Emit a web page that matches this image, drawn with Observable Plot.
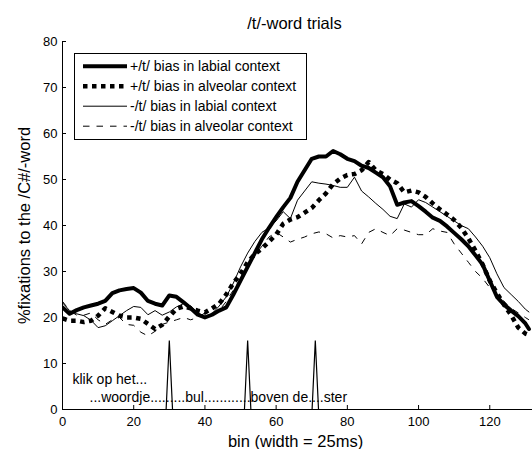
<!DOCTYPE html>
<html><head><meta charset="utf-8">
<script src="https://cdn.jsdelivr.net/npm/d3@7"></script>
<script src="https://cdn.jsdelivr.net/npm/@observablehq/plot@0.6"></script>
<style>
body{margin:0;background:#fff;font-family:Arial,"Liberation Sans",sans-serif;color:#000}
#wrap{position:relative;width:532px;height:449px;overflow:hidden;background:#fff}
#title{position:absolute;left:0;top:14px;width:475px;padding-left:57px;text-align:center;font-size:16.5px;line-height:19px;white-space:nowrap}
#chart{position:absolute;left:0;top:30px}
#legend{position:absolute;left:74px;top:53px}
</style></head><body>
<div id="wrap"><div id="title">/t/-word trials</div><div id="chart"></div><div id="legend"></div></div>
<script>
const titleText = "/t/-word trials";
const xLabel = "bin (width = 25ms)";
const yLabel = "%fixations to the /C#/-word";
const xTicks = [0, 20, 40, 60, 80, 100, 120];
const yTicks = [0, 10, 20, 30, 40, 50, 60, 70, 80];
const seriesNames = ["+/t/ bias in labial context", "+/t/ bias in alveolar context", "-/t/ bias in labial context", "-/t/ bias in alveolar context"];
const bins = [0,2,4,6,8,10,12,14,16,18,20,22,24,26,28,30,32,34,36,38,40,42,44,46,48,50,52,54,56,58,60,62,64,66,68,70,72,74,76,78,80,82,84,86,88,90,92,94,96,98,100,102,104,106,108,110,112,114,116,118,120,122,124,126,128,130,131];
const labialPlus = [22.2,20.8,21.6,22.2,22.6,23.0,23.6,25.3,25.9,26.2, 26.4,25.4,23.6,23.0,22.6,24.8,24.5,23.3,22.0,20.6, 20.0,20.6,21.5,22.2,25.0,28.0,31.0,34.0,37.0,39.5, 41.8,44.0,46.0,49.5,52.0,54.5,55.0,55.0,56.2,55.5, 54.5,54.0,53.0,52.5,51.5,50.5,48.5,44.5,45.0,45.3, 44.2,43.0,41.7,41.0,39.8,38.4,37.0,35.5,33.5,31.5, 28.0,24.5,22.8,21.5,20.3,18.7, 17.5];
const alveolarPlus = [19.8,19.3,19.3,19.0,19.3,20.4,22.0,21.2,20.4,20.0, 20.0,19.7,18.6,17.5,18.4,20.2,21.9,22.4,22.0,21.5, 21.1,22.0,23.0,25.0,27.5,29.5,32.0,33.8,35.0,36.5, 38.0,40.4,41.3,41.8,42.8,43.8,45.5,47.0,49.0,50.2, 51.0,51.2,52.0,53.8,52.0,51.2,50.0,49.2,47.2,47.6, 47.2,46.2,44.8,43.5,42.4,41.2,39.5,37.2,34.5,31.5, 28.0,25.3,22.8,20.5,17.8,16.5, 16.2];
const labialMinus = [23.2,21.5,20.8,20.4,19.4,17.8,18.2,19.3,20.4,21.5, 22.4,22.2,20.6,21.5,20.5,21.2,22.3,23.0,22.5,21.0, 20.3,20.8,22.5,24.5,27.5,31.0,34.0,36.5,38.5,39.5, 41.0,43.0,41.5,45.5,47.5,49.5,49.2,49.0,48.7,48.3, 48.3,50.5,47.5,46.2,44.8,43.5,42.0,41.5,44.7,44.0, 45.6,45.0,44.0,43.0,42.0,41.0,40.0,39.3,37.5,35.5, 33.0,29.5,26.5,25.0,23.5,21.8, 21.2];
const alveolarMinus = [23.5,21.5,20.5,20.5,21.0,19.5,18.5,19.5,20.0,18.5, 18.3,16.8,16.0,17.0,18.5,19.0,19.5,20.0,19.5,20.0, 21.0,20.5,21.5,23.5,26.0,28.5,31.0,33.5,35.5,37.5, 38.5,37.5,36.4,37.0,37.5,38.2,38.6,38.2,37.3,37.8, 37.5,37.8,36.0,38.5,39.3,38.5,37.8,39.3,39.0,38.5, 38.0,38.0,39.3,38.8,38.5,36.0,34.0,32.0,30.0,28.5, 26.5,25.0,23.5,22.0,21.0,20.0, 19.5];
const wordOnsets = [30, 52, 71];
const onsetMarkerHeight = 15;
const annotationTop = "klik op het...";
const annotationBottom = "...woordje.........bul............boven de....ster";

const styles = [
  {strokeWidth: 4, strokeDasharray: null, strokeLinecap: "round"},
  {strokeWidth: 4.5, strokeDasharray: "4.5,4.5", strokeLinecap: "butt"},
  {strokeWidth: 1, strokeDasharray: null, strokeLinecap: "round"},
  {strokeWidth: 1, strokeDasharray: "6.5,7", strokeLinecap: "butt"}
];
const seriesValues = [labialPlus, alveolarPlus, labialMinus, alveolarMinus];
const seriesData = seriesValues.map(vals => bins.map((b, i) => ({x: b, y: vals[i]})));

const markerData = wordOnsets.flatMap(o => [
  {x: o - 0.9, y: 0, z: o}, {x: o, y: onsetMarkerHeight, z: o}, {x: o + 0.9, y: 0, z: o}
]);

const font = "Arial, 'Liberation Sans', sans-serif";
document.getElementById("title").textContent = titleText;

const W = 532, H = 419, mL = 62, mR = 0, mT = 11, mB = 40, tickLen = 4;
const plot = Plot.plot({
  width: W, height: H,
  marginLeft: mL, marginRight: mR, marginTop: mT, marginBottom: mB,
  style: {fontFamily: font, fontSize: "13px", color: "#000", background: "#fff", overflow: "visible"},
  x: {domain: [0, 132], label: null},
  y: {domain: [0, 80], label: null},
  marks: [
    Plot.ruleY([0], {stroke: "#000"}),
    Plot.ruleX([0], {stroke: "#000"}),
    Plot.tickX(xTicks, {x: d => d, stroke: "#000", insetTop: (H - mT - mB) - tickLen}),
    Plot.tickY(yTicks, {y: d => d, stroke: "#000", insetRight: (W - mL - mR) - tickLen}),
    Plot.axisX({ticks: xTicks, tickSize: 0, tickPadding: 7.5, label: null, tickFormat: d => String(d)}),
    Plot.axisY({ticks: yTicks, tickSize: 0, tickPadding: 5, label: yLabel, labelAnchor: "center", labelOffset: 44, labelArrow: "none", fontSize: 13, tickFormat: d => String(d)}),
    ...seriesData.map((d, i) => Plot.line(d, {x: "x", y: "y", stroke: "#000", clip: true, strokeLinejoin: "round", ...styles[i]})),
    Plot.line(markerData, {x: "x", y: "y", z: "z", stroke: "#000", strokeWidth: 1.2, strokeLinejoin: "miter"}),
    Plot.text([annotationTop], {text: d => d, frameAnchor: "bottom-left", textAnchor: "start", dx: 10, dy: -26, fontSize: 14}),
    Plot.text([annotationBottom], {text: d => d, frameAnchor: "bottom-left", textAnchor: "start", dx: 27, dy: -7.5, fontSize: 14}),
    Plot.text([xLabel], {text: d => d, frameAnchor: "bottom", dx: -2, dy: 37, fontSize: 16.5})
  ]
});
document.getElementById("chart").appendChild(plot);
// enlarge the y axis title only
d3.select(plot).selectAll("g[aria-label='y-axis label'] text").style("font-size", "16.5px");

// legend
const lg = d3.select("#legend").append("svg").attr("width", 234).attr("height", 88)
  .style("font-family", font).style("font-size", "14px");
lg.append("rect").attr("x", 0.5).attr("y", 0.5).attr("width", 232).attr("height", 86)
  .attr("fill", "#fff").attr("stroke", "#000").attr("stroke-width", 1);
seriesNames.forEach((name, i) => {
  const cy = 13.2 + 20 * i;
  const st = styles[i];
  lg.append("line").attr("x1", 9).attr("x2", 53).attr("y1", cy).attr("y2", cy)
    .attr("stroke", "#000").attr("stroke-width", st.strokeWidth)
    .attr("stroke-dasharray", st.strokeDasharray).attr("stroke-linecap", "butt");
  lg.append("text").attr("x", 56).attr("y", cy).attr("dy", "0.35em").text(name);
});
</script>
</body></html>
